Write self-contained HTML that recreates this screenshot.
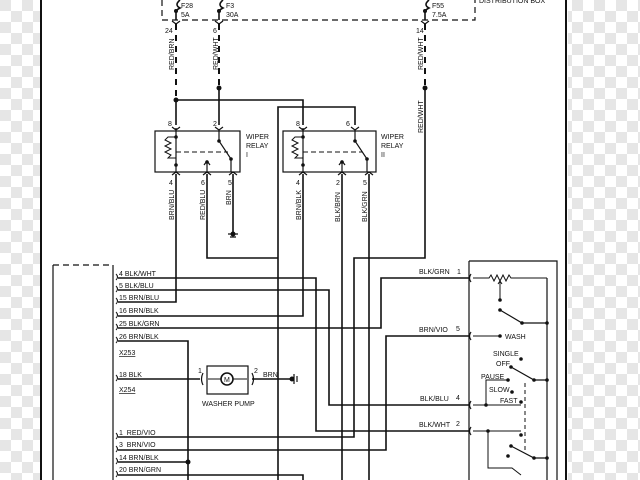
<!DOCTYPE html>
<html><head><meta charset="utf-8"><style>
html,body{margin:0;padding:0;background:#fff;width:640px;height:480px;overflow:hidden}
svg text{font-family:"Liberation Sans",sans-serif;font-size:7px;fill:#111}
</style></head><body>
<svg width="640" height="480" viewBox="0 0 640 480" xmlns="http://www.w3.org/2000/svg">
<defs>
<pattern id="chk" width="22" height="22" patternUnits="userSpaceOnUse">
<rect width="22" height="22" fill="#fff"/>
<rect width="11" height="11" fill="#e6e6e6"/><rect x="11" y="11" width="11" height="11" fill="#e6e6e6"/>
</pattern>
</defs>
<rect x="0" y="0" width="40" height="480" fill="url(#chk)"/>
<rect x="568" y="0" width="72" height="480" fill="url(#chk)"/>
<g stroke="#111" fill="none" stroke-width="1.6">
<line x1="41" y1="0" x2="41" y2="480" stroke-width="2"/>
<line x1="566" y1="0" x2="566" y2="480" stroke-width="2"/>
<!-- distribution box -->
<path d="M162 0 V20 H475 V0" stroke-dasharray="6,4" stroke-width="1.2"/>
<!-- fuses -->
<path d="M180 0 q-6 5 0 8 q-4 2 -4 4 V20"/><path d="M223 0 q-6 5 0 8 q-4 2 -4 4 V20"/><path d="M429 0 q-6 5 0 8 q-4 2 -4 4 V20"/>
<!-- connectors top -->
<path d="M172 21 l4 3 l4 -3 M215 21 l4 3 l4 -3 M421 21 l4 3 l4 -3" stroke-width="1.2"/>
<!-- dashed wires -->
<line x1="176" y1="24" x2="176" y2="100" stroke-dasharray="6,5" stroke-width="2"/>
<line x1="219" y1="24" x2="219" y2="88" stroke-dasharray="6,5" stroke-width="2"/>
<line x1="425" y1="24" x2="425" y2="88" stroke-dasharray="6,5" stroke-width="2"/>
<!-- solid wires -->
<path d="M176 100 V125 M176 100 H303 V125 M219 88 V125 M278 480 V107 H355 V125"/>
<path d="M425 88 V258 H354 V437 H118"/>
<!-- relay boxes -->
<rect x="155" y="131" width="85" height="41" stroke-width="1.2"/>
<rect x="283" y="131" width="93" height="41" stroke-width="1.2"/>
<!-- relay I internals -->
<path d="M176 128 V172 M172 127 l4 3 l4 -3 M215 127 l4 3 l4 -3 M219 130 V141 l12 18 V172" stroke-width="1.2"/>
<path d="M176 137 H168 l-3 3 l6 3 l-6 3 l6 3 l-6 3 l6 3 l-3 3 H176" stroke-width="1"/>
<path d="M176 152 H228" stroke-dasharray="5,3" stroke-width="1"/>
<path d="M207 162 V172 M204 165 l3 -4 l3 4" stroke-width="1.2"/>
<!-- relay II internals -->
<path d="M303 128 V172 M299 127 l4 3 l4 -3 M351 127 l4 3 l4 -3 M355 130 V141 l12 18 V172" stroke-width="1.2"/>
<path d="M303 137 H295 l-3 3 l6 3 l-6 3 l6 3 l-6 3 l6 3 l-3 3 H303" stroke-width="1"/>
<path d="M303 152 H362" stroke-dasharray="5,3" stroke-width="1"/>
<path d="M342 162 V172 M339 165 l3 -4 l3 4" stroke-width="1.2"/>
<!-- bottom connectors relays -->
<path d="M172 175 l4 -3 l4 3 M203 175 l4 -3 l4 3 M229 175 l4 -3 l4 3 M299 175 l4 -3 l4 3 M338 175 l4 -3 l4 3 M365 175 l4 -3 l4 3" stroke-width="1.2"/>
<!-- relay I bottom wires -->
<path d="M176 174 V302 H118 M207 174 V258 H278 M233 174 V232"/>
<path d="M228 234 H238 M230 237 H236" stroke-width="1.2"/>
<!-- relay II bottom wires -->
<path d="M303 174 V316 H118 M342 174 V480 M369 174 V480"/>
<!-- harness wires -->
<path d="M118 278 H316 V431 H469"/>
<path d="M118 290 H329 V405 H469"/>
<path d="M118 328 H381 V278 H469"/>
<path d="M118 341 H188 V480 M118 462 H188"/>
<path d="M118 450 H386 V336 H469"/>
<path d="M118 475 H303 V480"/>
<path d="M118 379 H200 M252 379 H290"/>
<!-- connector box -->
<path d="M53 265 H113" stroke-dasharray="6,4" stroke-width="1.2"/>
<path d="M53 265 V480 M113 265 V480" stroke-width="1.2"/>
<g stroke-width="1"><path d="M116 274 q3 3 0 6 M116 286 q3 3 0 6 M116 298 q3 3 0 6 M116 312 q3 3 0 6 M116 324 q3 3 0 6 M116 337 q3 3 0 6 M116 375 q3 3 0 6 M116 433 q3 3 0 6 M116 446 q3 3 0 6 M116 458 q3 3 0 6 M116 471 q3 3 0 6"/></g>
<!-- washer pump -->
<rect x="207" y="366" width="41" height="28" stroke-width="1.2"/>
<path d="M203 373 q-3 6 0 12 M252 373 q3 6 0 12" stroke-width="1.2"/>
<circle cx="227" cy="379" r="6" stroke-width="1.6"/>
<path d="M208 379 H221 M233 379 H247" stroke-width="1"/>
<!-- ground at pump -->
<path d="M294 374 V384 M297 376 V382" stroke-width="1.2"/>
<!-- switch box -->
<path d="M469 261 H557 V480 M547 278 V480 M469 261 V480" stroke-width="1.2"/>
<path d="M471 274 q-3 4 0 8 M471 332 q-3 4 0 8 M471 401 q-3 4 0 8 M471 427 q-3 4 0 8" stroke-width="1.2"/>
<path d="M473 278 H489 l2 -3 l3 6 l3 -6 l3 6 l3 -6 l3 6 l3 -6 l2 3 H547" stroke-width="1"/>
<path d="M500 300 V281 M498 284 l2 -3 l2 3" stroke-width="1"/>
<path d="M500 310 L522 323 H547" stroke-width="1.2"/>
<path d="M473 336 H500" stroke-width="1"/>
<path d="M511 367 L534 380 H547" stroke-width="1.2"/>
<path d="M508 380 H486 V405 M473 405 H521" stroke-width="1"/>
<path d="M525 383 V450" stroke-dasharray="4,3" stroke-width="1"/>
<path d="M473 431 H521 M488 431 V468 H512 L521 475" stroke-width="1"/>
<path d="M511 446 L534 458 H547" stroke-width="1.2"/>
</g>
<g fill="#111">
<circle cx="176" cy="100" r="2.5"/><circle cx="219" cy="88" r="2.5"/><circle cx="425" cy="88" r="2.5"/>
<circle cx="176" cy="11" r="2"/><circle cx="219" cy="11" r="2"/><circle cx="425" cy="11" r="2"/>
<circle cx="176" cy="137" r="1.8"/><circle cx="176" cy="165" r="1.8"/><circle cx="219" cy="141" r="1.8"/><circle cx="231" cy="159" r="1.8"/><circle cx="207" cy="162" r="1.8"/>
<circle cx="303" cy="137" r="1.8"/><circle cx="303" cy="165" r="1.8"/><circle cx="355" cy="141" r="1.8"/><circle cx="367" cy="159" r="1.8"/><circle cx="342" cy="162" r="1.8"/>
<circle cx="233" cy="234" r="2.5"/><circle cx="292" cy="379" r="2.5"/><circle cx="188" cy="462" r="2.5"/>
<circle cx="500" cy="300" r="1.8"/><circle cx="500" cy="310" r="1.8"/><circle cx="522" cy="323" r="1.8"/><circle cx="547" cy="323" r="1.8"/>
<circle cx="500" cy="336" r="1.8"/><circle cx="521" cy="359" r="1.8"/><circle cx="511" cy="367" r="1.8"/><circle cx="534" cy="380" r="1.8"/><circle cx="547" cy="380" r="1.8"/>
<circle cx="508" cy="380" r="1.8"/><circle cx="512" cy="392" r="1.8"/><circle cx="521" cy="402" r="1.8"/><circle cx="486" cy="405" r="1.8"/>
<circle cx="488" cy="431" r="1.8"/><circle cx="521" cy="435" r="1.8"/><circle cx="511" cy="446" r="1.8"/><circle cx="534" cy="458" r="1.8"/><circle cx="547" cy="458" r="1.8"/><circle cx="508" cy="456" r="1.8"/>
</g>
<!-- text -->
<text x="181" y="8">F28</text><text x="181" y="17">5A</text>
<text x="226" y="8">F3</text><text x="226" y="17">30A</text>
<text x="432" y="8">F55</text><text x="432" y="17">7.5A</text>
<text x="479" y="3">DISTRIBUTION BOX</text>
<text x="165" y="33">24</text><text x="213" y="33">6</text><text x="416" y="33">14</text>
<text transform="translate(174,70) rotate(-90)">RED/BRN</text>
<text transform="translate(218,70) rotate(-90)">RED/WHT</text>
<text transform="translate(423,70) rotate(-90)">RED/WHT</text>
<text transform="translate(423,133) rotate(-90)">RED/WHT</text>
<text x="168" y="126">8</text><text x="213" y="126">2</text><text x="296" y="126">8</text><text x="346" y="126">6</text>
<text x="246" y="139">WIPER</text><text x="246" y="148">RELAY</text><text x="246" y="157">I</text>
<text x="381" y="139">WIPER</text><text x="381" y="148">RELAY</text><text x="381" y="157">II</text>
<text x="169" y="185">4</text><text x="201" y="185">6</text><text x="228" y="185">5</text>
<text x="296" y="185">4</text><text x="336" y="185">2</text><text x="363" y="185">5</text>
<text transform="translate(174,220) rotate(-90)">BRN/BLU</text>
<text transform="translate(205,220) rotate(-90)">RED/BLU</text>
<text transform="translate(231,205) rotate(-90)">BRN</text>
<text transform="translate(301,220) rotate(-90)">BRN/BLK</text>
<text transform="translate(340,222) rotate(-90)">BLK/BRN</text>
<text transform="translate(367,222) rotate(-90)">BLK/GRN</text>
<text x="119" y="276">4 BLK/WHT</text>
<text x="119" y="288">5 BLK/BLU</text>
<text x="119" y="300">15 BRN/BLU</text>
<text x="119" y="313">16 BRN/BLK</text>
<text x="119" y="326">25 BLK/GRN</text>
<text x="119" y="339">26 BRN/BLK</text>
<text x="119" y="355" text-decoration="underline">X253</text>
<text x="119" y="377">18 BLK</text>
<text x="119" y="392" text-decoration="underline">X254</text>
<text x="119" y="435">1 &#160;RED/VIO</text>
<text x="119" y="447">3 &#160;BRN/VIO</text>
<text x="119" y="460">14 BRN/BLK</text>
<text x="119" y="472">20 BRN/GRN</text>
<text x="198" y="373">1</text><text x="254" y="373">2</text><text x="263" y="377">BRN</text>
<text x="224" y="382" font-size="8">M</text>
<text x="202" y="406">WASHER PUMP</text>
<text x="419" y="274">BLK/GRN</text><text x="457" y="274">1</text>
<text x="419" y="332">BRN/VIO</text><text x="456" y="331">5</text>
<text x="420" y="401">BLK/BLU</text><text x="456" y="400">4</text>
<text x="419" y="427">BLK/WHT</text><text x="456" y="426">2</text>
<text x="505" y="339">WASH</text>
<text x="493" y="356">SINGLE</text>
<text x="496" y="366">OFF</text>
<text x="481" y="379">PAUSE</text>
<text x="489" y="392">SLOW</text>
<text x="500" y="403">FAST</text>
</svg>
</body></html>
